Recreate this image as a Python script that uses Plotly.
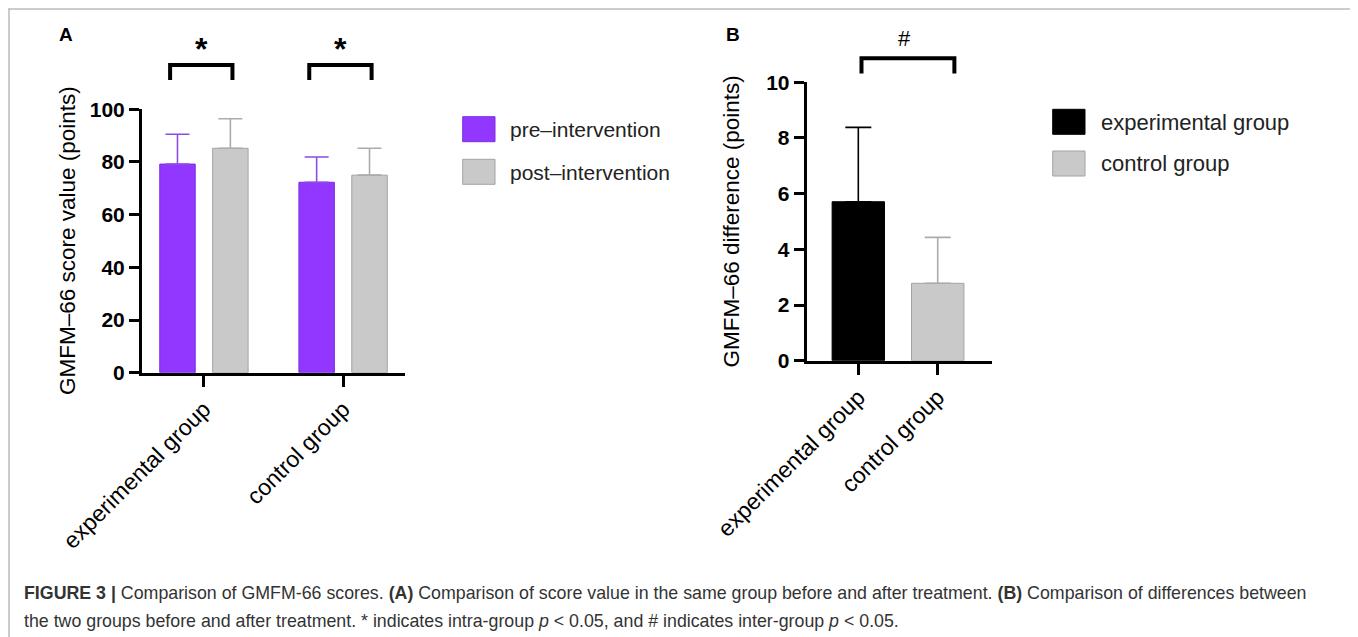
import plotly.graph_objects as go

# The page body has an 8px margin, so the figure is drawn 8px in from the window edge.
OFF = 8
W, H = 1358 - OFF, 637 - OFF
def fx(px): return (px - OFF) / W
def fy(py): return 1 - (py - OFF) / H

# ---- data ----
groups = ["experimental group", "control group"]
pre_mean = [79.2, 72.3]
pre_sd = [11.3, 9.6]
post_mean = [85.2, 75.0]
post_sd = [11.2, 10.2]
series_a = ["pre\u2013intervention", "post\u2013intervention"]

diff_mean = [5.71, 2.78]
diff_sd = [2.67, 1.65]
series_b = ["experimental group", "control group"]

a_ticks = [0, 20, 40, 60, 80, 100]
b_ticks = [0, 2, 4, 6, 8, 10]

# ---- style ----
PURPLE = "#9137FF"
PURPLE_EDGE = "#7E2EE0"
PURPLE_ERR = "#8C4BE6"
GRAY = "#C9C9C9"
GRAY_EDGE = "#A3A3A3"
GRAY_ERR = "#ABABAB"
BLACK = "#000000"
FONT = "Liberation Sans, Arial, sans-serif"

pos = list(range(len(groups)))
bw_a = 0.255
off_a = 0.19
bw_b = 0.66

fig = go.Figure()

# Panel A bars
fig.add_trace(go.Bar(
    x=pos, y=pre_mean, name=series_a[0], width=bw_a, offset=-off_a - bw_a / 2,
    marker=dict(color=PURPLE, line=dict(color=PURPLE_EDGE, width=1)),
    error_y=dict(type="data", array=pre_sd, arrayminus=[0] * len(pre_sd), symmetric=False,
                 color=PURPLE_ERR, thickness=1.6, width=12),
    xaxis="x", yaxis="y", showlegend=False))
fig.add_trace(go.Bar(
    x=pos, y=post_mean, name=series_a[1], width=bw_a, offset=off_a - bw_a / 2,
    marker=dict(color=GRAY, line=dict(color=GRAY_EDGE, width=1)),
    error_y=dict(type="data", array=post_sd, arrayminus=[0] * len(post_sd), symmetric=False,
                 color=GRAY_ERR, thickness=1.6, width=12),
    xaxis="x", yaxis="y", showlegend=False))

# Panel B bars
b_colors = [BLACK, GRAY]
b_edges = [BLACK, GRAY_EDGE]
b_err = [BLACK, GRAY_ERR]
for i in range(len(series_b)):
    fig.add_trace(go.Bar(
        x=[pos[i]], y=[diff_mean[i]], name=series_b[i], width=bw_b,
        marker=dict(color=b_colors[i], line=dict(color=b_edges[i], width=1)),
        error_y=dict(type="data", array=[diff_sd[i]], arrayminus=[0], symmetric=False,
                     color=b_err[i], thickness=1.6, width=13),
        xaxis="x2", yaxis="y2", showlegend=False))

# significance brackets (in data units on continuation axes)
br_a_left, br_a_right = -0.243, 0.205
br_a_low, br_a_high, star_a_y = 111.1, 116.8, 123.0
for p in pos:
    fig.add_trace(go.Scatter(
        x=[p + br_a_left, p + br_a_left, p + br_a_right, p + br_a_right],
        y=[br_a_low, br_a_high, br_a_high, br_a_low], mode="lines",
        line=dict(color=BLACK, width=4), xaxis="x3", yaxis="y3",
        showlegend=False, hoverinfo="skip"))
    fig.add_annotation(x=p + (br_a_left + br_a_right) / 2, y=star_a_y, xref="x3", yref="y3",
                       text="<b>*</b>", showarrow=False, xanchor="center", yanchor="middle",
                       font=dict(family=FONT, size=32, color=BLACK))

br_b_x = [0.04, 1.21]
br_b_low, br_b_high, hash_y = 10.32, 10.86, 11.56
fig.add_trace(go.Scatter(
    x=[br_b_x[0], br_b_x[0], br_b_x[1], br_b_x[1]],
    y=[br_b_low, br_b_high, br_b_high, br_b_low], mode="lines",
    line=dict(color=BLACK, width=4), xaxis="x4", yaxis="y4",
    showlegend=False, hoverinfo="skip"))
fig.add_annotation(x=sum(br_b_x) / 2 - 0.04, y=hash_y, xref="x4", yref="y4", text="#",
                   showarrow=False, xanchor="center", yanchor="middle",
                   font=dict(family=FONT, size=22, color=BLACK))

# ---- axes ----
a_dom_x = [fx(142), fx(405)]
a_dom_y = [fy(372.7), fy(109.3)]
b_dom_x = [fx(806.7), fx(991.7)]
b_dom_y = [fy(360.7), fy(82.3)]

a_range_x = [-0.445, 1.445]
b_range_x = [-0.65, 1.68]
a_px_per = (372.7 - 109.3) / 100
b_px_per = (360.7 - 82.3) / 10

common_x = dict(showline=True, linewidth=3, linecolor=BLACK, ticks="outside", ticklen=11,
                tickwidth=3, tickcolor=BLACK, showgrid=False, zeroline=False,
                tickangle=-45, tickfont=dict(family=FONT, size=23, color=BLACK),
                automargin=False, fixedrange=True)
common_y = dict(showline=True, linewidth=3, linecolor=BLACK, ticks="outside", ticklen=10,
                tickwidth=3, tickcolor=BLACK, showgrid=False, zeroline=False,
                tickfont=dict(family=FONT, size=21, color=BLACK, weight="bold"),
                automargin=False, fixedrange=True)

fig.update_layout(
    xaxis=dict(domain=a_dom_x, range=a_range_x, tickvals=pos, ticktext=groups, anchor="y", **common_x),
    yaxis=dict(domain=a_dom_y, range=[0, 100], tickvals=a_ticks, anchor="x", **common_y),
    xaxis2=dict(domain=b_dom_x, range=b_range_x, tickvals=pos, ticktext=groups, anchor="y2", **common_x),
    yaxis2=dict(domain=b_dom_y, range=[0, 10], tickvals=b_ticks, anchor="x2", **common_y),
    xaxis3=dict(domain=a_dom_x, range=a_range_x, anchor="y3", visible=False, fixedrange=True),
    yaxis3=dict(domain=[fy(109.3), fy(30)], range=[100, 100 + (109.3 - 30) / a_px_per],
                anchor="x3", visible=False, fixedrange=True),
    xaxis4=dict(domain=b_dom_x, range=b_range_x, anchor="y4", visible=False, fixedrange=True),
    yaxis4=dict(domain=[fy(82.3), fy(25)], range=[10, 10 + (82.3 - 25) / b_px_per],
                anchor="x4", visible=False, fixedrange=True),
)

def note(x, y, text, size, color=BLACK, xanchor="center", yanchor="middle", angle=0):
    fig.add_annotation(x=x, y=y, xref="paper", yref="paper", text=text, textangle=angle,
                       showarrow=False, xanchor=xanchor, yanchor=yanchor,
                       font=dict(family=FONT, size=size, color=color))

# ---- axis titles ----
note(fx(67), (a_dom_y[0] + a_dom_y[1]) / 2, "GMFM\u201366 score value (points)", 22.5, angle=-90)
note(fx(731), (b_dom_y[0] + b_dom_y[1]) / 2, "GMFM\u201366 difference (points)", 22.5, angle=-90)

# panel letters
note(fx(66), fy(35), "<b>A</b>", 19)
note(fx(733), fy(35), "<b>B</b>", 19)

# ---- manual legends ----
shapes = []
leg_a = [(series_a[0], PURPLE, PURPLE_EDGE, 116.7), (series_a[1], GRAY, GRAY_EDGE, 159.3)]
for label, col, edge, top in leg_a:
    shapes.append(dict(type="rect", xref="paper", yref="paper", x0=fx(462.7), x1=fx(495),
                       y0=fy(top + 25), y1=fy(top), fillcolor=col, line=dict(color=edge, width=1)))
    note(fx(508), fy(top + 13), label, 21, color="#222222", xanchor="left")
leg_b = [(series_b[0], BLACK, BLACK, 109.3), (series_b[1], GRAY, GRAY_EDGE, 151)]
for label, col, edge, top in leg_b:
    shapes.append(dict(type="rect", xref="paper", yref="paper", x0=fx(1052.7), x1=fx(1085),
                       y0=fy(top + 25), y1=fy(top), fillcolor=col, line=dict(color=edge, width=1)))
    note(fx(1099), fy(top + 13), label, 22, color="#222222", xanchor="left")

# frame
FRAME = "#9A9A9A"
shapes.append(dict(type="line", xref="paper", yref="paper", x0=fx(8.5), x1=fx(1354), y0=fy(9), y1=fy(9),
                   line=dict(color=FRAME, width=1)))
shapes.append(dict(type="line", xref="paper", yref="paper", x0=fx(9), x1=fx(9), y0=fy(8.5), y1=0,
                   line=dict(color=FRAME, width=1)))
shapes.append(dict(type="line", xref="paper", yref="paper", x0=fx(1353.5), x1=fx(1353.5), y0=fy(8.5), y1=0,
                   line=dict(color=FRAME, width=1)))

# caption
cap1 = ("<b>FIGURE 3 |</b> Comparison of GMFM-66 scores. <b>(A)</b> Comparison of score value in the same group "
        "before and after treatment. <b>(B)</b> Comparison of differences between")
cap2 = ("the two groups before and after treatment. * indicates intra-group <i>p</i> &lt; 0.05, "
        "and # indicates inter-group <i>p</i> &lt; 0.05.")
note(fx(22), fy(593), cap1, 17.8, color="#333333", xanchor="left")
note(fx(22), fy(621), cap2, 17.8, color="#333333", xanchor="left")

fig.update_layout(
    width=W, height=H, margin=dict(l=0, r=0, t=0, b=0),
    paper_bgcolor="white", plot_bgcolor="rgba(0,0,0,0)",
    barmode="overlay", shapes=shapes, showlegend=False,
    font=dict(family=FONT, color=BLACK),
)

fig.write_html("out.html")
